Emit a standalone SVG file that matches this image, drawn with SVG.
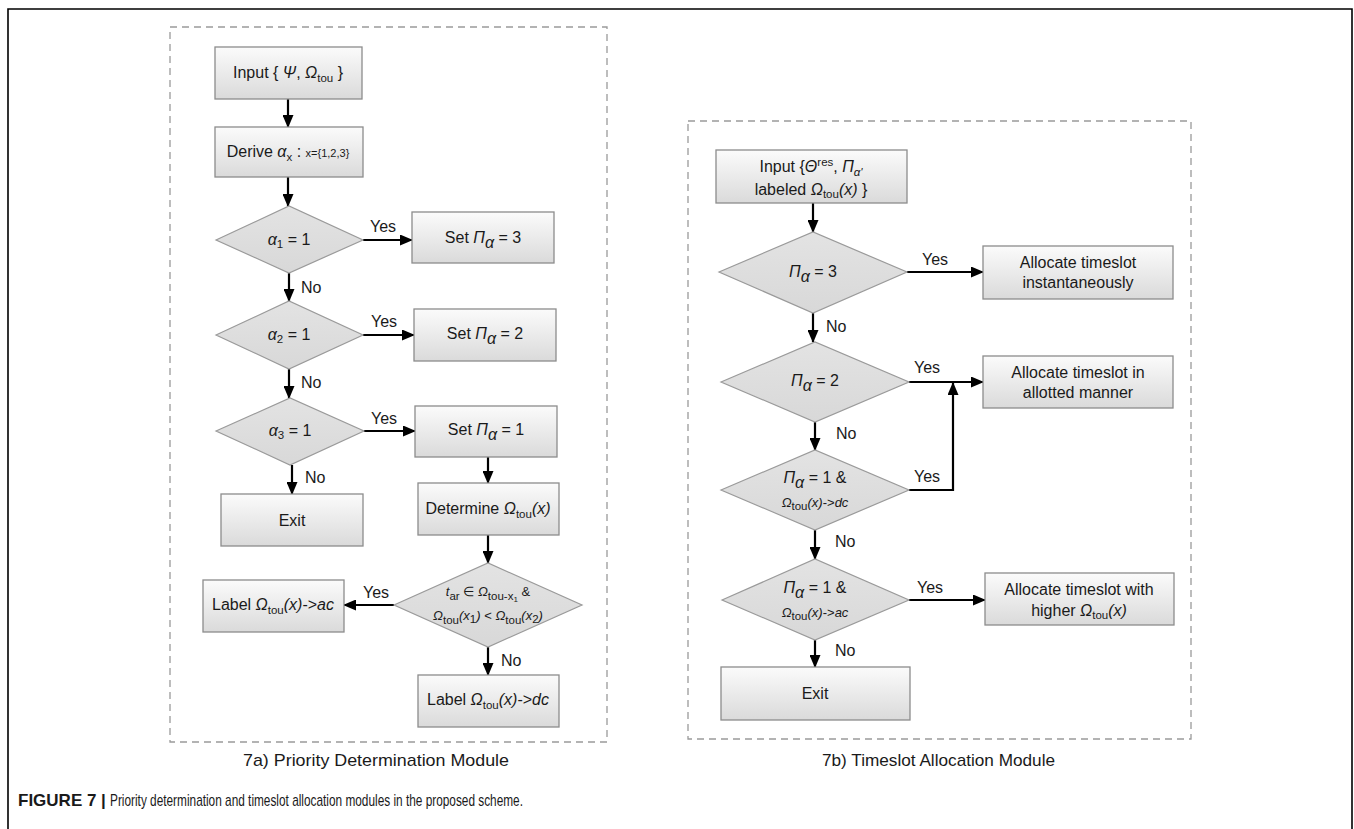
<svg xmlns="http://www.w3.org/2000/svg" width="1354" height="829" viewBox="0 0 1354 829">
<style>
text{font-family:"Liberation Sans",Arial,sans-serif;font-size:16px;fill:#1a1a1a}
.c{text-anchor:middle}
.i{font-style:italic}
.s{font-size:11.5px}
.sm{font-size:11px}
.box{fill:url(#gb);stroke:#8c8c8c;stroke-width:1.3}
.dia{fill:url(#gd);stroke:#9a9a9a;stroke-width:1.2}
.dash{fill:none;stroke:#9a9a9a;stroke-width:1.3;stroke-dasharray:7,5}
.con{fill:none;stroke:#000;stroke-width:2.2;marker-end:url(#ah)}
.lbl{font-size:16px}
.cap{font-size:17px}
</style>
<defs>
<linearGradient id="gb" x1="0" y1="0" x2="0" y2="1"><stop offset="0" stop-color="#fbfbfb"/><stop offset="1" stop-color="#dadada"/></linearGradient>
<linearGradient id="gd" x1="0" y1="0" x2="0" y2="1"><stop offset="0" stop-color="#e3e3e3"/><stop offset="1" stop-color="#d8d8d8"/></linearGradient>
<marker id="ah" markerUnits="userSpaceOnUse" markerWidth="13" markerHeight="11" refX="12" refY="5.5" orient="auto"><path d="M0,0 L13,5.5 L0,11 z" fill="#000"/></marker>
</defs>
<rect width="1354" height="829" fill="#fff"/>
<path d="M8,829 V9 H1352 V829" fill="none" stroke="#000" stroke-width="1.6"/>
<rect class="dash" x="170" y="27" width="437" height="715"/>
<rect class="dash" x="688" y="121" width="503" height="618"/>

<g id="connectors">
<line class="con" x1="288" y1="99" x2="288" y2="127"/>
<line class="con" x1="288" y1="177" x2="288" y2="206"/>
<line class="con" x1="363" y1="240" x2="412" y2="240"/>
<line class="con" x1="289" y1="273" x2="289" y2="301"/>
<line class="con" x1="363" y1="335" x2="414" y2="335"/>
<line class="con" x1="289" y1="369" x2="289" y2="398"/>
<line class="con" x1="364" y1="431" x2="415" y2="431"/>
<line class="con" x1="292" y1="465" x2="292" y2="494"/>
<line class="con" x1="488" y1="457" x2="488" y2="483"/>
<line class="con" x1="488" y1="535" x2="488" y2="563"/>
<line class="con" x1="394" y1="605" x2="344" y2="605"/>
<line class="con" x1="488" y1="647" x2="488" y2="675"/>
<line class="con" x1="813" y1="203" x2="813" y2="232"/>
<line class="con" x1="907" y1="272" x2="983" y2="272"/>
<line class="con" x1="813" y1="313" x2="813" y2="342"/>
<line class="con" x1="909" y1="382" x2="983" y2="382"/>
<line class="con" x1="815" y1="422" x2="815" y2="450"/>
<path class="con" d="M909,490 H953 V383"/>
<line class="con" x1="815" y1="530" x2="815" y2="559"/>
<line class="con" x1="909" y1="600" x2="985" y2="600"/>
<line class="con" x1="815" y1="640" x2="815" y2="667"/>
<text class="lbl c" x="383" y="232">Yes</text>
<text class="lbl" x="301" y="293">No</text>
<text class="lbl c" x="384" y="327">Yes</text>
<text class="lbl" x="301" y="388">No</text>
<text class="lbl c" x="384" y="424">Yes</text>
<text class="lbl" x="305" y="483">No</text>
<text class="lbl c" x="376" y="598">Yes</text>
<text class="lbl" x="501" y="666">No</text>
<text class="lbl c" x="935" y="265">Yes</text>
<text class="lbl" x="826" y="332">No</text>
<text class="lbl c" x="927" y="373">Yes</text>
<text class="lbl" x="836" y="439">No</text>
<text class="lbl c" x="927" y="482">Yes</text>
<text class="lbl" x="835" y="547">No</text>
<text class="lbl c" x="930" y="593">Yes</text>
<text class="lbl" x="835" y="656">No</text>
</g>

<g id="a-input">
<rect class="box" x="215" y="47" width="147" height="52"/>
<text class="c" x="288" y="78">Input { <tspan class="i">Ψ</tspan>, <tspan class="i">Ω</tspan><tspan class="s" dy="4">tou</tspan><tspan dy="-4"> }</tspan></text>
</g>
<g id="a-derive">
<rect class="box" x="215" y="127" width="148" height="50"/>
<text class="c" x="288" y="157">Derive <tspan class="i">α</tspan><tspan class="s" dy="4">x</tspan><tspan dy="-4"> : </tspan><tspan class="sm">x={1,2,3}</tspan></text>
</g>
<g id="a-d1">
<polygon class="dia" points="216,240 289,206 363,240 289,273"/>
<text class="c" x="289" y="245"><tspan class="i">α</tspan><tspan class="s" dy="3">1</tspan><tspan dy="-3"> = 1</tspan></text>
</g>
<g id="a-set3">
<rect class="box" x="412" y="212" width="142" height="51"/>
<text class="c" x="483" y="243">Set <tspan class="i">Π</tspan><tspan class="i" dy="5">α</tspan><tspan dy="-5"> = 3</tspan></text>
</g>
<g id="a-d2">
<polygon class="dia" points="216,335 289,301 363,335 289,369"/>
<text class="c" x="289" y="340"><tspan class="i">α</tspan><tspan class="s" dy="3">2</tspan><tspan dy="-3"> = 1</tspan></text>
</g>
<g id="a-set2">
<rect class="box" x="414" y="309" width="142" height="52"/>
<text class="c" x="485" y="339">Set <tspan class="i">Π</tspan><tspan class="i" dy="5">α</tspan><tspan dy="-5"> = 2</tspan></text>
</g>
<g id="a-d3">
<polygon class="dia" points="216,431 290,398 364,431 290,465"/>
<text class="c" x="290" y="436"><tspan class="i">α</tspan><tspan class="s" dy="3">3</tspan><tspan dy="-3"> = 1</tspan></text>
</g>
<g id="a-set1">
<rect class="box" x="415" y="406" width="142" height="51"/>
<text class="c" x="486" y="435">Set <tspan class="i">Π</tspan><tspan class="i" dy="5">α</tspan><tspan dy="-5"> = 1</tspan></text>
</g>
<g id="a-exit">
<rect class="box" x="221" y="494" width="142" height="52"/>
<text class="c" x="292" y="526">Exit</text>
</g>
<g id="a-determine">
<rect class="box" x="418" y="483" width="141" height="52"/>
<text class="c" x="488" y="514">Determine <tspan class="i">Ω</tspan><tspan class="s" dy="4">tou</tspan><tspan class="i" dy="-4">(x)</tspan></text>
</g>
<g id="a-d4">
<polygon class="dia" points="394,605 488,563 582,605 488,647"/>
<text class="c" x="488" y="596" style="font-size:13px"><tspan class="i">t</tspan><tspan class="s" dy="4">ar</tspan><tspan dy="-4"> ∈ </tspan><tspan class="i">Ω</tspan><tspan class="s" dy="4">tou-x</tspan><tspan style="font-size:8px" dy="2">1</tspan><tspan dy="-6"> &amp;</tspan></text>
<text class="c" x="488" y="620" style="font-size:13px"><tspan class="i">Ω</tspan><tspan class="s" dy="4">tou</tspan><tspan class="i" dy="-4">(x</tspan><tspan class="s" dy="3">1</tspan><tspan class="i" dy="-3">)</tspan> &lt; <tspan class="i">Ω</tspan><tspan class="s" dy="4">tou</tspan><tspan class="i" dy="-4">(x</tspan><tspan class="s" dy="3">2</tspan><tspan class="i" dy="-3">)</tspan></text>
</g>
<g id="a-label-ac">
<rect class="box" x="203" y="580" width="141" height="52"/>
<text class="c" x="273" y="610">Label <tspan class="i">Ω</tspan><tspan class="s" dy="4">tou</tspan><tspan class="i" dy="-4">(x)</tspan>-&gt;<tspan class="i">ac</tspan></text>
</g>
<g id="a-label-dc">
<rect class="box" x="418" y="675" width="141" height="52"/>
<text class="c" x="488" y="705">Label <tspan class="i">Ω</tspan><tspan class="s" dy="4">tou</tspan><tspan class="i" dy="-4">(x)</tspan>-&gt;<tspan class="i">dc</tspan></text>
</g>

<g id="b-input">
<rect class="box" x="716" y="150" width="191" height="53"/>
<text class="c" x="811" y="172">Input {<tspan class="i">Θ</tspan><tspan class="s" dy="-6">res</tspan><tspan dy="6">, </tspan><tspan class="i">Π</tspan><tspan class="i s" dy="4">α'</tspan></text>
<text class="c" x="811" y="195">labeled <tspan class="i">Ω</tspan><tspan class="s" dy="3">tou</tspan><tspan class="i" dy="-3">(x)</tspan> }</text>
</g>
<g id="b-d1">
<polygon class="dia" points="719,272 813,232 907,272 813,313"/>
<text class="c" x="813" y="277"><tspan class="i">Π</tspan><tspan class="i" dy="5">α</tspan><tspan dy="-5"> = 3</tspan></text>
</g>
<g id="b-inst">
<rect class="box" x="983" y="246" width="190" height="53"/>
<text class="c" x="1078" y="268">Allocate timeslot</text>
<text class="c" x="1078" y="288">instantaneously</text>
</g>
<g id="b-d2">
<polygon class="dia" points="721,382 815,342 909,382 815,422"/>
<text class="c" x="815" y="386"><tspan class="i">Π</tspan><tspan class="i" dy="5">α</tspan><tspan dy="-5"> = 2</tspan></text>
</g>
<g id="b-allot">
<rect class="box" x="983" y="356" width="190" height="52"/>
<text class="c" x="1078" y="378">Allocate timeslot in</text>
<text class="c" x="1078" y="398">allotted manner</text>
</g>
<g id="b-d3">
<polygon class="dia" points="721,490 815,450 909,490 815,530"/>
<text class="c" x="815" y="483"><tspan class="i">Π</tspan><tspan class="i" dy="5">α</tspan><tspan dy="-5"> = 1 &amp;</tspan></text>
<text class="c" x="815" y="507" style="font-size:13px"><tspan class="i">Ω</tspan><tspan class="s" dy="3">tou</tspan><tspan class="i" dy="-3">(x)</tspan>-&gt;<tspan class="i">dc</tspan></text>
</g>
<g id="b-d4">
<polygon class="dia" points="722,600 815,559 909,600 815,640"/>
<text class="c" x="815" y="593"><tspan class="i">Π</tspan><tspan class="i" dy="5">α</tspan><tspan dy="-5"> = 1 &amp;</tspan></text>
<text class="c" x="815" y="617" style="font-size:13px"><tspan class="i">Ω</tspan><tspan class="s" dy="3">tou</tspan><tspan class="i" dy="-3">(x)</tspan>-&gt;<tspan class="i">ac</tspan></text>
</g>
<g id="b-higher">
<rect class="box" x="985" y="573" width="189" height="52"/>
<text class="c" x="1079" y="595">Allocate timeslot with</text>
<text class="c" x="1079" y="616">higher  <tspan class="i">Ω</tspan><tspan class="s" dy="3">tou</tspan><tspan class="i" dy="-3">(x)</tspan></text>
</g>
<g id="b-exit">
<rect class="box" x="721" y="667" width="189" height="53"/>
<text class="c" x="815" y="699">Exit</text>
</g>

<text class="cap" x="243" y="766" textLength="266" lengthAdjust="spacingAndGlyphs">7a) Priority Determination Module</text>
<text class="cap" x="822" y="766" textLength="233" lengthAdjust="spacingAndGlyphs">7b) Timeslot Allocation Module</text>
<text class="cap" x="18" y="806" style="font-weight:bold">FIGURE 7 |</text>
<text class="cap" x="110" y="806" textLength="413" lengthAdjust="spacingAndGlyphs">Priority determination and timeslot allocation modules in the proposed scheme.</text>
</svg>
